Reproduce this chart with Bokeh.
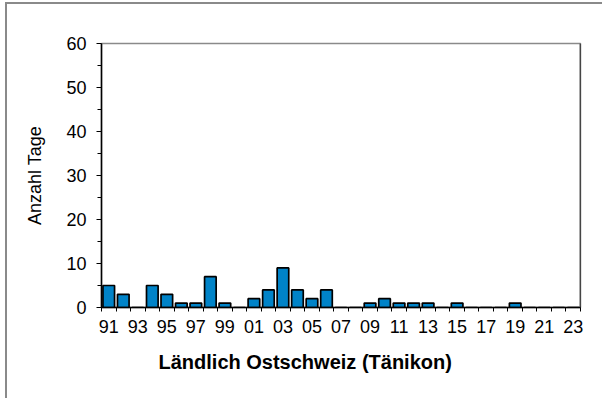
from bokeh.plotting import figure
from bokeh.models import Range1d, FixedTicker, Span, Title
from bokeh.embed import file_html
from bokeh.resources import INLINE

years = ["91", "92", "93", "94", "95", "96", "97", "98", "99", "00",
         "01", "02", "03", "04", "05", "06", "07", "08", "09", "10",
         "11", "12", "13", "14", "15", "16", "17", "18", "19", "20",
         "21", "22", "23"]
days = [5, 3, 0, 5, 3, 1, 1, 7, 1, 0,
        2, 4, 9, 4, 2, 4, 0, 0, 1, 2,
        1, 1, 1, 0, 1, 0, 0, 0, 1, 0,
        0, 0, 0]
y_ticks = [0, 10, 20, 30, 40, 50, 60]
y_minor = [5, 15, 25, 35, 45, 55]
title_text = "Ländlich Ostschweiz  (Tänikon)"
y_title = "Anzahl Tage"

FONT = "Liberation Sans"
n = len(years)
xs = list(range(n))

p = figure(width=597, height=396, output_backend="svg", toolbar_location=None,
           x_range=Range1d(-0.5, n - 0.5), y_range=Range1d(0, 60),
           min_border_left=94, min_border_right=24, min_border_top=39, min_border_bottom=93)
p.styles = {"border-top": "2px solid #8a8a8a", "border-left": "2px solid #8a8a8a",
            "margin-left": "5px", "margin-top": "2px"}

p.vbar(x=xs, top=days, width=0.8, fill_color="#0083C8", line_color="black", line_width=1.7)

p.xgrid.visible = False
p.ygrid.visible = False
p.outline_line_color = "#8a8a8a"
p.outline_line_width = 1.5
p.add_layout(Span(location=n - 0.5, dimension="height", line_color="black", line_width=1.5))

# x axis
xa = p.xaxis[0]
xa.ticker = FixedTicker(ticks=xs[::2], minor_ticks=[i - 0.5 for i in range(n + 1)])
xa.major_label_overrides = {i: years[i] for i in xs[::2]}
xa.major_tick_line_color = None
xa.major_tick_out = 0
xa.major_tick_in = 0
xa.minor_tick_out = 4
xa.minor_tick_in = 0
xa.minor_tick_line_color = "black"
xa.axis_line_color = "black"
xa.axis_line_width = 1.5
xa.major_label_text_font = FONT
xa.major_label_text_font_size = "18px"
xa.major_label_text_color = "black"
xa.major_label_standoff = 8

# y axis
ya = p.yaxis[0]
ya.ticker = FixedTicker(ticks=y_ticks, minor_ticks=y_minor)
ya.major_tick_out = 5
ya.major_tick_in = 0
ya.minor_tick_out = 4
ya.minor_tick_in = 0
ya.major_tick_line_color = "black"
ya.minor_tick_line_color = "black"
ya.axis_line_color = "black"
ya.axis_line_width = 1.5
ya.major_label_text_font = FONT
ya.major_label_text_font_size = "18px"
ya.major_label_text_color = "black"
ya.major_label_standoff = 10
ya.axis_label = y_title
ya.axis_label_text_font = FONT
ya.axis_label_text_font_size = "18px"
ya.axis_label_text_font_style = "normal"
ya.axis_label_text_color = "black"
ya.axis_label_standoff = 18

p.add_layout(Title(text=title_text, align="left", offset=57, standoff=27,
                   text_font=FONT, text_font_size="20px", text_font_style="bold",
                   text_color="black"), "below")

open("out.html", "w").write(file_html(p, INLINE))
